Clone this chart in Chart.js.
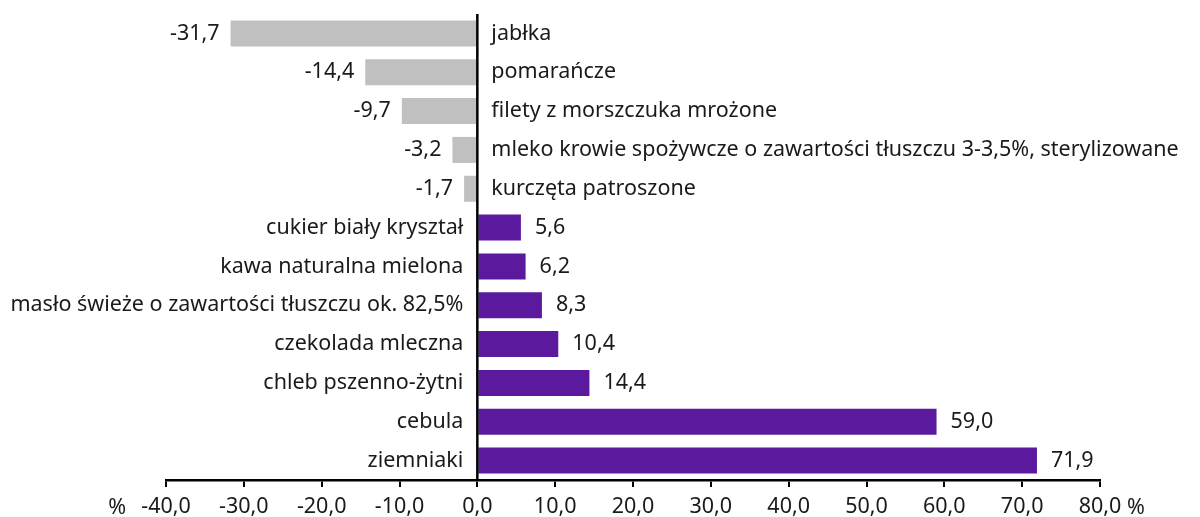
<!DOCTYPE html>
<html>
<head>
<meta charset="utf-8">
<script src="https://cdn.jsdelivr.net/npm/chart.js@4"></script>
<style>
  html,body{margin:0;padding:0;background:#fff;}
  canvas{display:block;}
</style>
</head>
<body>
<canvas id="chart" width="1200" height="517"></canvas>
<script>
const categories = [
  "jabłka",
  "pomarańcze",
  "filety z morszczuka mrożone",
  "mleko krowie spożywcze o zawartości tłuszczu 3-3,5%, sterylizowane",
  "kurczęta patroszone",
  "cukier biały kryształ",
  "kawa naturalna mielona",
  "masło świeże o zawartości tłuszczu ok. 82,5%",
  "czekolada mleczna",
  "chleb pszenno-żytni",
  "cebula",
  "ziemniaki"
];
const values = [-31.7, -14.4, -9.7, -3.2, -1.7, 5.6, 6.2, 8.3, 10.4, 14.4, 59.0, 71.9];
const xMin = -40, xMax = 80, xStep = 10;

const FONT = '"Noto Sans", sans-serif';
const FSIZE = 21.5;
const TXT = "#1a1a1a";
const fmt = v => v.toFixed(1).replace(".", ",");

// labels next to bars, zero line and the % signs
const labelsPlugin = {
  id: "barLabels",
  afterDatasetsDraw(chart){
    const ctx = chart.ctx;
    const x = chart.scales.x;
    const area = chart.chartArea;
    const x0 = x.getPixelForValue(0);
    const meta = chart.getDatasetMeta(0);
    ctx.save();
    ctx.font = FSIZE + "px " + FONT;
    ctx.fillStyle = TXT;
    ctx.textBaseline = "middle";
    meta.data.forEach((bar, i) => {
      const v = values[i];
      const y = bar.y;
      if (v < 0) {
        ctx.textAlign = "left";
        ctx.fillText(categories[i], x0 + 14, y);
        ctx.textAlign = "right";
        ctx.fillText(fmt(v), bar.x - 11, y);
      } else {
        ctx.textAlign = "right";
        ctx.fillText(categories[i], x0 - 14, y);
        ctx.textAlign = "left";
        ctx.fillText(fmt(v), bar.x + 14, y);
      }
    });
    // zero line
    ctx.strokeStyle = "#000";
    ctx.lineWidth = 2.5;
    ctx.beginPath();
    ctx.moveTo(x0, area.top);
    ctx.lineTo(x0, area.bottom);
    ctx.stroke();
    // % signs
    const ty = area.bottom + 28;
    ctx.textBaseline = "middle";
    ctx.textAlign = "right";
    ctx.fillText("%", x.getPixelForValue(xMin) - 40, ty);
    ctx.textAlign = "left";
    ctx.fillText("%", x.getPixelForValue(xMax) + 27, ty);
    ctx.restore();
  }
};

new Chart(document.getElementById("chart"), {
  type: "bar",
  data: {
    labels: categories,
    datasets: [{
      data: values,
      backgroundColor: values.map(v => v < 0 ? "#c0c0c0" : "#5b1a9e"),
      barPercentage: 0.67,
      categoryPercentage: 1
    }]
  },
  options: {
    indexAxis: "y",
    responsive: false,
    animation: false,
    maintainAspectRatio: false,
    layout: { padding: { left: 166, right: 100, top: 14, bottom: 0 } },
    plugins: { legend: { display: false }, tooltip: { enabled: false } },
    scales: {
      x: {
        min: xMin, max: xMax,
        afterFit: s => { s.height = 37; },
        ticks: {
          stepSize: xStep,
          color: TXT,
          font: { family: FONT, size: FSIZE },
          padding: 7,
          maxRotation: 0,
          callback: v => fmt(v)
        },
        grid: { drawOnChartArea: false, drawTicks: true, tickLength: 7, color: "#000", lineWidth: 2 },
        border: { display: true, color: "#000", width: 2.5 }
      },
      y: { display: false }
    }
  },
  plugins: [labelsPlugin]
});
</script>
</body>
</html>
